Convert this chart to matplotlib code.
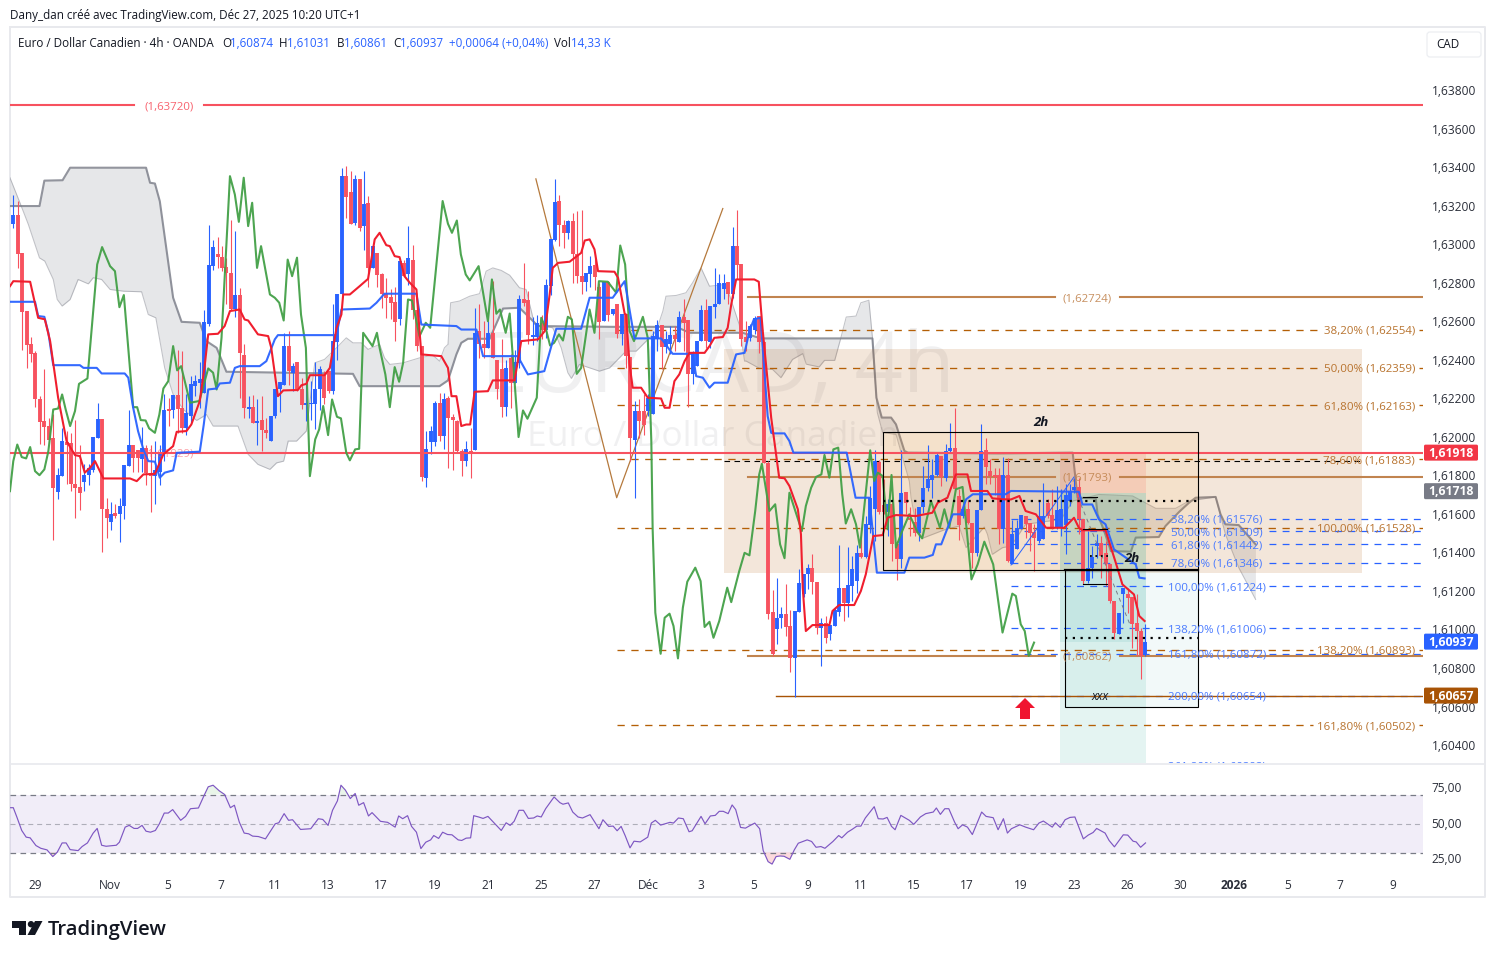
import numpy as np
import matplotlib
matplotlib.use("Agg")
import matplotlib.pyplot as plt
from matplotlib.patches import Rectangle, Polygon, Circle, FancyBboxPatch
from matplotlib.transforms import Affine2D, blended_transform_factory

plt.rcParams['font.family'] = ['Open Sans', 'DejaVu Sans']

# ---------- candles: values in 1/10000 above 1.6 -----------------
BASE = 1.6
direction = ("BRRRRRRRRR" "BBRRRRBBBB" "RRBRBBBRRB" "RRBBBRBRRB" "BBBBBBRRRR" "BRRBRBRRBB"
             "BBRBRRBBBB" "RRBBBRRBRB" "RBRRRRRBRB" "RRRBBBRBRR" "RRBRBRRBRR" "RBRBBRRBBR"
             "BBBRRBRRRB" "BRRBRBRBRR" "BRRBBBRBBR" "BRRBBBRBBB" "BRBRRRBBRR" "RRBBRRBBBB"
             "RRBRBBBRBB" "BRBBBRRBRR" "BRRRBBBBBR" "BBRRBRRBBR" "RRRBRBBBRR" "RBBRRBBBBB"
             "RRBBBRRRRB" "BRRRRB")
wick_high = [325.3,322.3,295.4,265.3,251.8,244.8,221.1,235,210,211.6,
 184,204.7,203,202,208.5,196,185.7,186,200,217.7,
 209.4,168,166,165,168.4,185.3,213.7,196,193.3,205,
 196,196,197.8,196,222.4,220.3,221.7,245,244.5,222,
 231.5,232,239,266,310,302.4,303.7,299,293,312.3,
 307,277.4,248,221,221.7,219.4,221,210,210.8,225,
 228.6,254,255,238.4,238.8,230.7,228,229,239,236.7,
 234,234,268.7,274.3,339.6,340.5,338,335.8,334,338,
 325,299,295.5,285.2,282.6,276.5,278,291.5,292,309.4,
 299.5,265.6,247,203,205.6,218.5,222.9,222.9,221,211.6,
 208.5,193.5,198,204.7,267,268.7,260,260,281,240,
 250.6,240,242.8,245,273.6,290,275.6,262,263.5,263.5,
 281.7,302.5,333.6,325.5,312.8,312.8,316.3,317,317.5,285,
 294,295,280,280.5,280.8,266.5,269,263.9,263.9,241.4,
 218.5,219.4,222,222,254.9,260.9,258.3,255,257.5,257.5,
 265.3,271.3,260.4,244.5,250,268.4,271.3,267.9,287.4,284.6,
 284.6,280.3,308.9,317.5,289.5,260,258.7,262.7,262.7,250,
 187.5,120.5,126.6,111.9,123.8,110,109.6,131.2,129,133.8,
 139.4,124.8,106.1,107,102.3,111.3,143.9,121.4,143,138,
 144,152.5,159,174.5,193,187.8,178,167.6,166.7,146,
 193,171.5,163.6,163.2,163.6,184.9,195.8,188.3,191.8,190,
 196.1,207,214.8,172.8,163.2,166.7,155.4,161.9,206.8,199.6,
 188.3,184,184,189.5,189.2,157,157,159.4,158.9,155.4,
 154.6,166.7,176.2,167.5,172.7,174.5,172.7,175.3,175.3,178.8,
 178.8,157.2,151.1,143.3,149.4,148.5,145.9,133.8,114.8,108.7,
 121.7,121.7,116.9,118.2,100.9,103.1]
body_top = [315.4,315.4,295.4,265.3,248.3,243.5,219.4,208,205.4,199.5,
 180,198.1,197.4,197,175.3,174,180,183.6,200,209.4,
 209.4,162.3,160,160.6,164,185.3,196,196,193.3,194.3,
 194.3,181.3,182.6,191.7,214,214.7,221.7,221.7,215,212.5,
 227.5,229,230,259.5,289,298.5,294.7,293.6,288.4,285,
 273.6,273.6,242.4,215.4,215.4,208,208.5,203.3,210.8,225,
 228.6,247,247,236.7,238.8,225,217.7,217.7,225,235,
 232,234,249.7,274.3,335.3,335.3,327,334,334,321,
 321.5,299,295.5,284.6,273.9,272.5,270,291.5,290.3,292.6,
 292,265.6,247,193.5,203,217.7,217.7,219.4,220.3,210.2,
 208,192.6,193.5,192.6,254,254.9,248.3,254,254,240,
 235,235.5,241,239,271.3,271.3,271,252.8,259,259,
 278.8,302.5,322,322.3,309.9,312,312,295,283.4,285,
 288.6,289,277.7,280.5,280.5,266.5,269,263.9,263.9,241.4,
 213.4,213.4,213.4,220.3,252.3,258.3,258.3,250.6,252.8,252.8,
 262,262,260.4,243.6,250,265.6,265.6,267.9,269,280,
 280,280.3,299,299,289.5,251.8,257.5,261.8,262.7,249.3,
 186.6,109.3,105.8,107.9,107.9,101.8,109.6,124.3,129,131.8,
 131.8,124.8,103.5,103.5,102.3,110,121.4,121.4,123,131.2,
 139.5,139.5,154.6,168.4,187.5,187.1,164.6,165,165.3,144.6,
 171,171.5,158,156,163.6,173.3,178,180.2,190.6,190,
 192.7,194,194,169.3,162.4,162.4,155.4,161.9,192.7,193,
 182.3,180.2,180.2,180.2,180.2,149.7,152.9,159.4,158.9,155.4,
 150.8,158.9,158.9,165.8,159.2,161.8,162.4,169.8,171.9,174,
 174,157.2,132.1,137.6,145,145,139.9,133.8,114.8,108.7,
 121.7,118.2,116.9,103.5,99.2,93.7]
body_bottom = [310.6,295,265,247.6,243,219.4,207.8,205,198.6,173.2,
 171.5,179.6,196,175.3,173.6,171,176.7,180,183,199.5,
 162.3,158,156,159,159.7,164,184.8,189,188.8,188.3,
 181.3,179.6,179.6,181.9,190.9,213.4,213.7,214.2,204.7,204.7,
 210.8,226.3,228,223,258.7,288.6,293.3,287.7,285,266.6,
 266.6,243.6,215,215,207.3,207.8,203.3,202,197.8,210.8,
 224.6,227,234,233.3,224.6,216.5,216.5,217,216.8,225,
 220,223.7,224,249.3,273.9,324.4,310.6,311,308.5,309.4,
 287.7,287.7,284,273.9,272.2,269.6,259.7,261,283.4,284.3,
 265.6,247,179.1,178.8,197.4,197.4,200.4,200.4,209.9,209,
 192.6,187.4,187.4,192,193.1,248,246.2,246.2,240.7,225,
 215.4,215.4,228,228,238.4,269.6,252.8,252.4,251.8,255.7,
 255.7,278.2,302,309.9,305.9,305.9,295,283.4,280.5,280.5,
 284.3,283,259.7,260,263.5,264,253.5,253.5,242,199.5,
 198.6,208,206,213.4,211.6,250.6,246.6,246.6,248.3,250.6,
 249.3,259.2,232.4,232.4,236.8,250,249.7,249.3,267.3,269,
 277,273.9,273.9,289,250.6,249.3,251.4,255.7,249.3,186.6,
 107.9,87.1,100.1,105.8,101.3,85,85.4,109.3,118.3,128.6,
 124.8,101,101,95.4,97.5,101.8,109.3,113.9,113.9,122.6,
 125.2,137.6,137.6,154.3,162.4,161.2,161.2,161.2,144.2,136.4,
 136.4,165.8,157,150.3,150.3,163.6,173.3,177.4,180.2,179.2,
 178.8,192.7,172.8,154.3,158.9,155.4,139.9,139.9,161.9,184.5,
 179.7,179.7,152,152,135.6,133.8,141.6,152,154.6,150.3,
 147.3,145.9,146.8,158.9,152.8,152.5,152.8,154.2,166.7,172.2,
 157.2,125.2,125.2,132.1,143.3,138.1,133.8,114.8,98.3,97.5,
 118.2,116.5,102.7,99.2,86.2,87.4]
wick_low = [308.2,287.7,245.2,235.5,239,215.4,196.4,196,197,146.2,
 167.7,179.6,175.3,172,158,162,172,175,182,199.5,
 140,147.6,151.4,158,145.5,157.5,184.8,182,182,182,
 175,161,165,175,187.4,205.6,210,202,202,201,
 207,221,215,223,257.5,286.4,287.7,286,268.7,266,
 262,220,209.6,210,207.3,196,192.6,199.5,197.8,210,
 213,226.8,227,224,224,214.7,208,209,204,214,
 217,223,222,239.7,273.9,313.7,310.6,310,306.8,297,
 278,287.4,278,267,261.8,261,249.7,258,283.4,279,
 261,244.5,177,174,190.9,195,197.8,193.5,183.6,183,
 191.7,179.6,184.8,178.4,193.1,241,240.7,246.2,240.7,219.4,
 210.2,210.8,215,228,235.8,267.9,248,247.6,249.7,250.6,
 251.4,273.6,301.6,299,297.8,302.5,280,280,273.9,275.6,
 277.7,276,250.6,260,260,263.5,251.4,247.6,235.8,187.4,
 168.4,199.5,201,210.8,211.6,244.5,235,243.6,242.8,244.5,
 249.3,244.5,215.4,227.5,236.8,249.7,246.2,245.9,261.8,268.7,
 271.3,268.7,272,281.7,247,244.5,249.7,253.5,243.6,186.6,
 105.3,86.3,92.7,101,96.6,78.1,65,109.3,116.9,120.9,
 118.3,97.5,81,93.2,94.4,101.8,107,104.4,106.5,114.8,
 119,137.3,137.3,150.3,146,159.8,159.8,148.5,135.6,125.5,
 131.8,159.8,148.5,148.5,146,160.6,172,168.4,179.7,174.5,
 177,192,172,146.3,158,154.6,132,138.2,161.9,175.4,
 175.4,170,144.2,145,135.2,133.8,141.6,152,147.7,140.7,
 130.4,145,146.8,158,152,152,148.5,139,164,171,
 149.4,123.4,124.3,126.9,137.3,126.9,122.6,113.9,94.9,97.5,
 103.5,108.7,90.6,86.2,74.1,86.1]

# ---------- Ichimoku lines (bar index, value) --------------------
blue_bars = [-.75,4.9,5.6,7,7.9,9,15,15.8,18.8,19.9,25.1,25.9,27,28.1,29.3,30.4,31.9,33,34.1,36,36.8,42,42.9,43.9,45.8,46.5,48.8,49.9,51,55.5,57,58.9,59.6,72.8,73.9,80.3,81.8,
 83.6,90.8,91.9,99.8,100.9,104.3,105.8,113.6,115.9,119.6,121.5,122.3,127.9,129.8,135,137.7,139.9,145.9,148.5,153,153.8,155.3,156.8,157.9,160.9,162.8,164.7,165.8,166.8,168.3,169.9,170.7,
 171,173.7,174.8,175.7,187.7,189.7,192.8,194.5,200.7,201.8,205.2,207.1,207.8,209,211.6,213.4,214.6,216.1,223.5,224.7,240,240.8,243,244.5,246,247.9,251.7,252.8,253.6,254.8]
blue_vals = [270.1,270.1,262.7,262.3,254,237.2,237.2,235.8,235.8,232.9,232.9,230.7,215.1,203,193.5,187.4,187.1,178.8,181.4,182.6,191.7,192.3,206.4,224.6,225.1,227.7,228.1,235.8,236.7,236.7,239.3,250.6,252.8,252.8,266.1,266.6,269.6,
 274.3,274.3,258.3,257.5,255.7,255.7,241.9,241.9,232.4,234.1,249.7,256.1,256.1,272.2,272.2,280.8,251.1,251.1,243.1,243.1,231.5,230.7,225.5,228.1,228.1,242.8,243.6,254.9,261,261.8,210.8,202.1,
 201.8,201.8,197.8,191.8,191.8,168.4,168.4,129.5,129.5,137.3,137.3,138.7,144.2,144.2,159.8,159.8,167.6,170.2,170.2,171.9,171.5,164.9,164.9,157.2,154.6,141.6,135.5,133.8,126.9,126.5]
red_bars = [-.75,0,3.8,5.6,7.1,8.3,10.1,12,13.9,15,16.1,17.3,18.4,20.3,26.3,27.8,29.3,31.9,33.8,36,36.8,39,40.1,42,43.1,43.9,46.1,47.6,48.8,51,52.1,52.9,55.1,57.4,58.1,59.6,60.8,64.1,64.9,66,66.8,70.1,71.3,72.8,73.9,74.3,75.8,78,79.9,81.4,82.5,
 84,84.8,85.9,87,88.1,89.3,90.8,91.9,96.4,97.9,98.7,99.8,100.9,102,102.9,103.9,106.9,108,112.9,114.4,118.2,119.7,120.8,121.5,122.7,125.3,127.9,128.7,129.8,130.9,131.7,135.4,136.2,137.7,138,138.8,139.5,141.4,142.9,145.9,146.7,147.8,148.9,150,151.2,152.3,155.7,156.8,157.9,159.8,160.9,161.7,162.8,166.9,167.9,168.8,170.7,
 172.5,173.7,174.8,176.7,177.4,177.8,178.5,180,183.8,184.5,186,189.4,190.9,192,193.7,195.8,196.9,198.8,203.3,207,208.2,210.4,212.3,214.9,215.7,219.4,220.5,222.8,224.7,226.6,228,230.3,232.6,236.7,238.9,240,240.8,246,248.3,249.8,252.4,253.6,254.8]
red_vals = [278.2,280.8,280.5,261.8,261,249.7,220.3,197.8,190.5,190,181.4,184,187.4,178.4,178.4,177,180.5,180.8,190.9,195.2,202.6,203,206.4,218.6,236.7,253.2,253.5,257.5,265.3,266.1,260.9,260.4,253.2,252.3,246.2,221.1,224.1,224.3,226.8,227.5,232,232,235.8,256.6,263.5,273.9,273.9,278.2,282,302.5,305.9,
 299.5,299,293.8,293.3,283.4,280,276.5,242.8,241.9,235.8,221.1,221.1,205.6,206.4,206.4,223.4,223.7,229.3,229.3,249.7,250.6,254.9,273.9,287.7,290.3,290.9,295.5,301.9,302.5,297.3,286,285.7,282.6,263.9,263.5,237.6,225.5,225.5,220.3,219.9,215.1,215.1,228.9,232.4,239.3,243.6,243.6,247.1,251.4,251.8,256.6,268.7,281.7,281.7,280.5,254.9,209.9,
 178.8,178.5,174.5,162.4,149.4,121.7,99.2,102.3,102.3,109.6,112.7,112.7,120,128.6,148.5,149,158,159.4,158.9,160.6,165.8,168.4,180.5,180.5,171.9,171.9,168.1,167.6,167.5,169.3,161.5,159.8,152.8,152.8,158,152.8,151.5,151.5,134.7,123.4,118.2,107,104.4]
green_bars = [-.75,0,.9,1.9,2.9,3.8,4.9,5.9,7,7.9,9,10.1,11,11.8,12.8,13.9,14.8,16.7,18.9,20,21.8,22.9,23.9,24.9,27,27.9,28.7,29.8,30.6,31.9,32.9,33.8,34.9,36,36.9,37.8,39.8,41.9,43.9,45,45.8,46.9,48.8,49.9,50.8,51.9,52.9,53.8,54.9,55.8,57.8,58.9,59.9,60.9,61.8,62.8,63.9,64.8,65.9,66.8,68,68.9,69.8,70.9,71.8,72.9,73.8,75,75.8,77,77.9,78.8,80.9,81.9,
 82.5,83.8,84.8,85.9,86.9,87.8,88.9,89.8,91.5,92.9,93.9,96.7,97.9,98.8,99.9,100.8,101.9,102.8,104.8,106.9,107.8,108.8,109.6,110.9,111.8,113.8,114.8,115.8,117.9,118.9,119.9,120.9,121.8,122.9,123.8,124.9,125.8,126.9,127.9,129.8,130.9,131.9,133.9,135.8,136.7,137.8,138.8,139.8,141.8,142.9,
 143.7,144,144.6,145.8,146.7,147.8,148.7,149.7,150.8,151.8,153.6,154.8,155.7,156.8,157.7,159,160.8,161.7,163.5,164.7,165.8,167.1,168,168.6,170.3,171.6,172.7,173.7,174.8,177.6,178.5,179.7,180.8,182,182.7,183.8,184.7,185.8,186.7,187.5,188.7,189.8,190.7,193,193.9,194.7,195.8,196.9,197.8,198.8,199.9,201.8,203.7,204.7,206.7,208.7,209.7,210.8,212.3,213.8,215.8,217.2,218.7,220.7,222.8,225,225.8,226.9,227.8,228.7,229.9]
green_vals = [171.8,187.4,196,189.5,188.8,194.7,182.2,180.1,183.1,192.6,214.2,214.7,222,214.2,205.6,213.4,227.5,230.3,289.5,298.5,288.6,286,267.3,273.6,215.4,215.4,208.7,208.5,204.4,202.1,211.6,225.1,228.9,247.1,234.5,236.7,217.7,218.6,235.5,233.3,224.6,251.4,335.3,325.8,311.6,334.5,309.4,321.5,287.7,299,273.9,272.2,269.6,260.4,292,283.4,293,263.5,246.2,179.6,198.7,203.9,216,200.9,219.4,210.4,209.6,191.7,187.8,193.5,193.8,254,247.1,254,
 246.2,232.4,215.4,236.2,228.6,238.4,271.3,270.8,252.3,259.2,256.6,322.4,310.6,305.9,312.3,294.7,284.3,281.2,288.6,260,281.7,263.9,266.1,254,264,199.9,213.7,209.4,220.3,261.8,256.6,247.4,248.8,253.2,250,262.3,261,232.7,235.8,266.1,254,280.8,280.5,274.8,299.3,289.5,254.9,249.7,262.3,251.4,
 197.8,152,108.7,87.4,106.1,108.2,101.8,85,111.3,124.8,132.1,125.1,101.3,104,95.7,104.4,121.7,114.2,130.3,139.8,138.5,161.5,180.5,186,161.5,165,144.2,137,171,151.1,164.1,173.6,179.2,180.5,190.6,178.8,193.5,194.4,170.2,155,162.4,154.6,142.5,193,177.1,181.4,179.7,152,180.2,142.5,149.4,159.8,150.3,147.3,166.7,152.9,162.4,152.9,172.8,174,126,133.8,145.6,133.8,98.4,118.6,117.4,102.7,99.2,86.3,93.2]
span_b_bars = [-.75,5.9,7,11.1,12.8,29.9,30.8,31.9,33,36,37.9,42,43.5,45.8,48,76.5,78,96,97.9,99.8,100.9,102.4,107.3,110.3,114,118.2,135,149.3,152.3,164.3,168.4,193.5,194.4,195.6,197.7,198.8,200.7,201.5,222,238.6,239.7,243.8,244.2,245.7,247.2,251.7,252.8,258,259.5,262.6,264.8,266.3,270.8,271.9,273,276,279.8]
span_b_vals = [319.8,319.8,333,333.2,339.7,339.7,331.9,331.5,322.3,272.2,259.7,259.2,249.7,246.2,233.8,232.7,226.3,226.3,229.3,242.8,248.8,250.9,250.9,266.6,267,257.5,257.1,257.1,254,254,251.1,251.1,220.3,210,210,206.5,192.7,191.8,191.4,191.8,168.4,168,159.8,151.1,140.7,140.4,147.7,148,153.7,161.1,165.8,168.4,168.8,159.8,154.6,154.2,144.2]
span_a_bars = [-.75,1.5,3.4,5.9,7.1,9,9.9,11,12.8,14.6,16.9,18,19.9,21.8,24.9,28.9,30.4,32.1,34.1,36,38.3,41.3,43.5,45,50.6,52.9,55.1,57.8,59.3,60.9,61.9,63.8,66,67.9,70.1,72.8,75,76.5,78.4,79.9,
 82.5,83.6,84.8,87.8,91.5,94.5,96,97.1,97.9,98.5,100.5,102.8,105,106.5,108,109.9,111.8,114,115.5,117.4,121.5,123.4,124.9,125.7,127.5,132,134.3,138,140.3,144.8,146.3,147,149.3,151.5,153,154.9,156.8,160.5,163.5,164.7,165,168,171,172.9,175.5,177.8,178.6,181.5,182.7,185,186.4,187.6,189.8,190.9,192.7,193.5,194.6,195.8,198.8,201.8,202.2,203.3,204.7,210,213,214.6,218.7,219.4,220.5,222.8,224.7,228,236,238.6,244.5,247.6,252.1,257.3,261.8,264.8,270.8,273,276,279.8]
span_a_vals = [334.5,321.5,310.2,292.9,291.2,281.7,271.3,267.9,271.3,281.7,279.4,282.6,281.7,276.5,275.6,275.3,263.5,261.8,235.8,222,214.2,208.5,211.6,205.6,205.6,190.9,185.7,183.1,186.5,187.4,197.8,197.8,203,238.4,240.2,246.2,251.4,248.8,248.8,245.4,
 248,241,237.6,238.4,241,242.4,239.3,246.2,248,269.6,270.5,273,274.3,286,287.7,286.4,283.9,277.4,276.5,258.3,256.6,246.2,233.3,230.3,237.6,234.1,235.8,244.5,244.5,254.9,265.3,273,273.4,274.8,280,287.7,278.2,279.1,258.3,239.3,239.4,235.6,235,230.7,240.2,243.2,237.7,236.3,239.7,239.7,251.5,262.2,262.7,269.6,270.9,251.5,212.6,202.2,201.3,177,168.4,154.6,147.3,152,153.7,142.5,153.2,149.4,139,142.5,143.3,154.6,157.2,166.7,170.1,169.8,169.3,162.9,162.9,166.7,168.8,149.4,132.1,115.6]

# ---------- RSI ---------------------------------------------------
rsi_bars = [-.6,0,.8,1.9,2.9,3.8,5.1,6.2,7.6,8.9,9.9,11,11.9,12.8,14.6,15.5,16.7,18,18.9,19.9,20.9,23.2,23.9,25.2,26.1,27.2,28,29,29.9,30.9,32,32.9,34,34.9,35.9,37.7,38.8,39.9,41.7,43,43.9,45,46.4,47.6,48.9,49.8,50.9,52,53,53.9,55.2,56.8,59,59.8,61,62,62.9,64.7,67,68.7,69.7,70.9,71.9,73,73.8,74.8,75.9,77,77.8,78.9,80,80.8,82.7,84.3,86,86.8,87.7,88.8,89.7,90.8,91.8,92.9,94,94.7,95.8,96.7,97.8,98.8,100.2,101,102,103,103.7,104.8,105.8,106.9,109.9,111,111.9,112.8,113.9,114.9,116,117.2,118,118.9,119.9,121.8,123.1,123.8,125,126,127.2,128.2,129.9,131.9,132.8,134.1,135.1,136,136.9,137.8,138.9,139.8,141.2,142.9,143.7,144.6,145.8,147.9,148.7,149.8,150.9,152.2,152.9,154.9,155.8,157,158.1,159,159.9,161,161.9,162.7,163.8,164.9,166,
 167,168.1,168.9,170,170.9,171.8,172.7,173.6,174.9,175.9,176.8,178.8,179.8,180.8,181.9,182.8,184.6,185.9,186.6,187.9,188.9,190,190.9,191.9,193.9,194.8,195.9,196.8,197.8,198.6,199.9,201.8,202.8,204.3,205.5,207.2,207.9,208.8,209.8,210.7,212,212.8,213.8,214.9,216,218.1,219.1,220.7,221.8,223,223.9,224.8,226.7,228,229.8,231,232,234,234.7,235.8,236.9,238,239.1,241,242.1,243.2,244,245.9,246.8,248,250,251,252.2,252.9,253.9,255]
rsi_vals = [60.9,60.9,54.5,45.2,40.6,40.1,34.8,32.9,31.8,27.2,30.2,36.6,36.6,32,31.3,34.1,36.6,43.4,46.6,35,34.3,35,37.1,47.5,48.7,46.6,46.6,48.7,44.7,44,45.2,49.8,57.2,57.2,59.6,52.2,54.9,60.2,60.7,69.5,75.3,76.4,72.5,70,60.9,62.6,51,43.4,42.9,41.3,41,39.4,49.8,50.5,56.8,52.2,52.6,45.9,46.4,53.3,52.8,48.7,59.1,65.6,76.4,73,67.2,70.7,62.6,64.4,55.2,57.5,51.5,50.8,47.5,55.2,53.3,55.4,48,44,32.7,37.1,38.7,41.7,39.7,44,42.4,42.2,38.7,38.3,39.9,40.1,55.4,54.5,53.5,54.9,45.2,50.5,48.7,51.5,59.1,59.1,53.5,53.8,55.2,54.5,60.2,68.3,64.4,63.3,64.2,57.9,54.5,53.8,56.1,46.4,52.6,48,48.2,45,48,41.7,33.2,37.8,37.3,40.6,50.3,52.2,48.9,50.8,50.3,53.8,53.3,44.3,45,54.9,49.8,55.2,55.6,58.4,58.4,56.8,62.8,59.6,47.3,46.8,48.7,
 50.3,46.4,31.3,23.7,22,27.2,27.6,27.4,25.3,31.8,36.4,38.7,37.6,33.6,34.1,32.9,37.6,41.7,40.1,44,45.9,48.2,48.2,53.8,61.6,53.3,53.1,54.2,48,45.7,55.6,52.2,49.4,54.5,56.8,57.9,60.7,56.3,60.2,60.2,51,46.4,49.1,47.5,42.4,57.9,54.9,54,45.7,53.3,43.4,46.4,49.1,47.5,45.7,50.3,51.7,47.5,50.5,47.3,52.6,54.2,54.5,39.4,42,43.8,46.6,43.4,38.3,33.9,42.2,42,37.8,37.3,33.6,36.6]

# ---------- levels, ticks, labels ---------------------------------
price_ticks = [1.638,1.636,1.634,1.632,1.630,1.628,1.626,1.624,1.622,1.620,1.618,1.616,1.614,1.612,1.610,1.608,1.606,1.604]
date_bars = [4.9,21.8,34.8,46.8,58.9,70.9,82.8,95,106.9,118.9,130.8,143,154.9,166.8,179,190.9,202.9,214.8,227,238.9,250.9,262.8,274.9,286.9,298.8,310.7]
date_labels = ['29','Nov','5','7','11','13','17','19','21','25','27','Déc','3','5','9','11','15','17','19','23','26','30','2026','5','7','9']
orange_fib = [1.62554,1.62359,1.62163,1.61883,1.61528,1.60893,1.60502]
orange_txt = ['38,20%','50,00%','61,80%','78,60%','100,00%','138,20%','161,80%']
blue_fib = [1.61576,1.61509,1.61442,1.61346,1.61224,1.61006,1.60872,1.60654,1.60292]
blue_txt = ['38,20%','50,00%','61,80%','78,60%','100,00%','138,20%','161,80%','200,00%','261,80%']
badge_prices = [1.61918,1.61718,1.60937,1.60657]
badge_colors = ['#f23645','#787b86','#2962ff','#a85305']

W, H = 1495, 958
BLUE, RED = '#2962ff', '#f7525f'
LINE_RED = '#f01e2e'
GREEN = '#43a047'
ORANGE = '#b45f06'
TAN = '#c1844f'
TXT = '#131722'
FS = 8.25
fig = plt.figure(figsize=(W/100, H/100), dpi=100, facecolor='white')
pix = Affine2D().scale(1, -1).translate(0, H)

def p(v):
    return BASE + np.asarray(v, float)*1e-4

ax = fig.add_axes([10/W, (H-763)/H, 1413/W, 736/H])
ax.set_xlim(-0.74, 317.5)
ax.set_ylim(1.603040+3e-5, 1.641244+3e-5)
for s in ax.spines.values():
    s.set_visible(False)
ax.patch.set_alpha(0)
ax.yaxis.tick_right()
ax.set_xticks([])
ax.set_yticks(price_ticks, [f"{t:.5f}".replace('.', ',') for t in price_ticks])
ax.tick_params(axis='y', length=0, pad=6.2, labelsize=8.6, labelcolor='#2a2e39')

py = blended_transform_factory(pix, ax.transData)   # x in pixels, y in price
py_txt = py + Affine2D().translate(0, -1.2)          # small optical shift of level labels

# watermark
ax.text(718, 370, 'EURCAD, 4h', transform=pix, ha='center', va='center', fontsize=61, color='#787b86', alpha=.11, zorder=0)
ax.text(713, 437, 'Euro / Dollar Canadien', transform=pix, ha='center', va='center', fontsize=25.5, color='#787b86', alpha=.11, zorder=0)

# Ichimoku cloud
grid = np.arange(-0.75, 279.9, 0.25)
a_i = np.interp(grid, span_a_bars, p(span_a_vals))
b_i = np.interp(grid, span_b_bars, p(span_b_vals))
ax.fill_between(grid, a_i, b_i, color='#787b86', alpha=.18, lw=0, zorder=1)
ax.plot(span_a_bars, p(span_a_vals), color='#787b86', alpha=.45, lw=.75, zorder=1.1)
ax.plot(span_b_bars, p(span_b_vals), color='#787b86', alpha=.8, lw=1.5, zorder=1.1)

# regions (drawing tools)
def rect(x0, y0, x1, y1, fc, alpha, z=1.5):
    ax.add_patch(Rectangle((x0, y0), x1-x0, y1-y0, transform=pix, fc=fc, alpha=alpha, lw=0, zorder=z))
rect(724, 349, 1362, 573, '#b5651d', .16)
rect(883, 432, 1198, 570, '#ffb74d', .10)
rect(1060, 452, 1146, 493, '#f44336', .13)
rect(1060, 493, 1146, 642, '#26a69a', .22)
rect(1060, 642, 1146, 764, '#26a69a', .12)
rect(1065, 570, 1198, 707, '#26a69a', .06)

# levels
def level(price, x0, x1, gap0, gap1, color, lw, ls, z=2, alpha=1):
    kw = dict(transform=py, color=color, lw=lw, ls=ls, zorder=z, alpha=alpha)
    if gap0 is None:
        ax.plot([x0, x1], [price, price], **kw)
    else:
        ax.plot([x0, gap0], [price, price], **kw)
        ax.plot([gap1, x1], [price, price], **kw)

dash = (0, (5.5, 5))
orange_gaps = [1319, 1319, 1319, 1319, 1313, 1313, 1313]
for v, t, g in zip(orange_fib, orange_txt, orange_gaps):
    level(v, 617, 1423, g, 1419, ORANGE, .95, dash)
    ax.text(1415, v, f"{t} ({v:.5f})".replace('1.', '1,'), transform=py_txt, ha='right', va='center',
            fontsize=FS, color='#b8732e', zorder=6)
for v, t in zip(blue_fib, blue_txt):
    if v > 1.6035:
        level(v, 1011, 1423, 1165, 1269, BLUE, .9, dash, z=2.1)
    ax.text(1217, v, f"{t} ({v:.5f})".replace('1.', '1,'), transform=py_txt, ha='center', va='center',
            fontsize=FS, color='#4a7bff', zorder=6, clip_on=True)

for price, txt, x0, gap0, gap1, col, lw in [(1.63720, '(1,63720)', 10, 134, 204, RED, 1.5),
                                           (1.62724, '(1,62724)', 748, 1055, 1120, TAN, 1.5),
                                           (1.61793, '(1,61793)', 748, 1055, 1120, TAN, 1.5),
                                           (1.60862, '(1,60862)', 748, 1055, 1120, TAN, 1.5)]:
    level(price, x0, 1423, gap0, gap1, col, lw, '-', z=2.3)
    ax.text((gap0+gap1)/2, price, txt, transform=py_txt, ha='center', va='center', fontsize=FS, color=col, alpha=.9, zorder=6)
level(1.60657, 776, 1423, None, None, '#a85305', 1.0, '-', z=2.3)
level(1.61918, 10, 1423, None, None, RED, 1.5, '-', z=3.25)
ax.text(169, 1.61918, '(1,61929)', transform=py_txt, ha='center', va='center', fontsize=FS, color=RED, alpha=.55, zorder=3.26)
level(1.61877, 724, 1360, None, None, 'black', .8, (0, (5, 4)), z=2.4)

# zigzag tool (bar, price)
zig_bars = [117.7, 135.9, 159.8]
zig_prices = [1.63339, 1.61684, 1.63185]
ax.plot(zig_bars, zig_prices, color='#b5793c', lw=.9, zorder=2.2)

# candles
bars = np.arange(len(direction))
is_up = np.array([d == 'B' for d in direction])
colors = np.where(is_up, BLUE, RED)
top = p(body_top)
bot = p(body_bottom)
minh = 1.6e-4
bot = np.minimum(bot, top-minh*.5)
ax.vlines(bars, p(wick_low), p(wick_high), colors=colors, lw=.8, zorder=3)
ax.vlines(bars, bot, top, colors=colors, lw=2.8, zorder=3.1, capstyle='butt')

# lines
ax.plot(green_bars, p(green_vals), color=GREEN, lw=1.5, alpha=.95, zorder=3.3)
ax.plot(blue_bars, p(blue_vals), color=BLUE, lw=1.5, alpha=.95, zorder=3.4)
ax.plot(red_bars, p(red_vals), color=LINE_RED, lw=1.5, zorder=3.5)

# drawing tools on top
def box(x0, y0, x1, y1, lw=.8):
    ax.add_patch(Rectangle((x0, y0), x1-x0, y1-y0, transform=pix, fc='none', ec='black', lw=lw, zorder=5))
box(883, 432, 1198, 570)
box(1065, 570, 1198, 707)
ax.plot([1065, 1198], [570, 570], transform=pix, color='black', lw=1.6, zorder=5)
ax.plot([883, 1198], [500.5, 500.5], transform=pix, color='black', lw=1.6, ls=(0, (1, 2.5)), zorder=5)
ax.plot([1065, 1198], [637.5, 637.5], transform=pix, color='black', lw=1.6, ls=(0, (1, 2.5)), zorder=5)
ax.plot([1011, 1074], [565, 477], transform=pix, color=BLUE, lw=.7, zorder=3.2)
ax.plot([1075, 1131], [490, 627], transform=pix, color='#787b86', lw=.7, ls=(0, (4, 4)), zorder=3.2)
for xs, y in [((1083, 1097), 497), ((1083, 1107), 529), ((1083, 1107), 584)]:
    ax.plot(xs, [y, y], transform=pix, color='black', lw=.8, zorder=5)
ax.plot([1090, 1108], [556, 556], transform=pix, color='black', lw=1.3, ls=(0, (1, 2)), zorder=5)
ax.text(1041, 422, '2h', transform=pix, ha='center', va='center', fontsize=9.5, fontweight='bold', style='italic', color='#131722', zorder=6)
ax.text(1132, 559, '2h', transform=pix, ha='center', va='center', fontsize=9.5, fontweight='bold', style='italic', color='#131722', zorder=6)
ax.text(1100, 697, 'xxx', transform=pix, ha='center', va='center', fontsize=8.6, style='italic', color='#131722', zorder=6)
ax.add_patch(Polygon([(1015, 708), (1025, 698), (1035, 708), (1030, 708), (1030, 719), (1020, 719), (1020, 708)],
                     transform=pix, fc='#f0142f', lw=0, zorder=6))

# price badges
for v, c in zip(badge_prices, badge_colors):
    y_pix = ax.transData.transform((0, v))[1]
    fig.add_artist(FancyBboxPatch((1424, H-y_pix-8), 54, 16, boxstyle='round,pad=0,rounding_size=1.5', transform=pix, fc=c, lw=0, zorder=7))
    fig.text(1451/W, (y_pix-.8)/H, f"{v:.5f}".replace('.', ','), ha='center', va='center', color='white',
             fontsize=8.8, fontweight='bold', zorder=8)

# RSI pane
rx = fig.add_axes([10/W, (H-868)/H, 1413/W, 104/H])
rx.set_xlim(-0.74, 317.5)
rx.set_ylim(50-(868-823.5)/1.45, 50+(823.5-764)/1.45)
for s in rx.spines.values():
    s.set_visible(False)
rx.patch.set_alpha(0)
rx.axhspan(30, 70, color='#7e57c2', alpha=.1, lw=0)
rx.axhline(70, color='#787b86', lw=.9, ls=(0, (4.5, 3.5)))
rx.axhline(30, color='#787b86', lw=.9, ls=(0, (4.5, 3.5)))
rx.axhline(50, color='#787b86', lw=.8, alpha=.55, ls=(0, (4.5, 3.5)))
rb, rv = np.array(rsi_bars), np.array(rsi_vals)
fine = np.arange(rb[0], rb[-1], .1)
fv = np.interp(fine, rb, rv)
rx.fill_between(fine, 70, fv, where=fv > 70, color='#4caf50', alpha=.12, lw=0)
rx.fill_between(fine, 30, fv, where=fv < 30, color='#f23645', alpha=.18, lw=0)
rx.plot(rb, rv, color='#7e57c2', lw=.85)
rx.yaxis.tick_right()
rx.set_yticks([75, 50, 26.2], ['75,00', '50,00', '25,00'])
rx.set_xticks(date_bars, date_labels)
rx.tick_params(axis='y', length=0, pad=6.2, labelsize=8.6, labelcolor='#2a2e39')
rx.tick_params(axis='x', length=0, pad=8, labelsize=8.6, labelcolor='#2a2e39')
for lab in rx.get_xticklabels():
    if lab.get_text() == '2026':
        lab.set_fontweight('bold')

# chrome
def chrome_line(xs, ys, lw=1.4):
    fig.add_artist(plt.Line2D(xs, ys, transform=pix, color='#e8e9ed', lw=lw, zorder=0))
chrome_line([10, 1485, 1485, 10, 10], [27, 27, 897, 897, 27])
chrome_line([10, 1485], [763.5, 763.5], lw=1.2)
fig.add_artist(FancyBboxPatch((1427, 32), 54, 25, boxstyle='round,pad=0,rounding_size=3', transform=pix, fc='white', ec='#eceef2', lw=.9, zorder=1))
fig.text(1436/W, 1-45/H, 'CAD', ha='left', va='center', fontsize=8.4, color=TXT)
fig.text(10/W, 1-15.2/H, 'Dany_dan créé avec TradingView.com, Déc 27, 2025 10:20 UTC+1', ha='left', va='center', fontsize=8.38, color=TXT)
legend_items = [(18, 'Euro / Dollar Canadien · 4h · OANDA', TXT), (222.5, 'O', TXT), (230, '1,60874', BLUE),
                (279, 'H', TXT), (287, '1,61031', BLUE), (337, 'B', TXT), (344, '1,60861', BLUE),
                (393, 'C', TXT), (400, '1,60937', BLUE), (449, '+0,00064 (+0,04%)', BLUE),
                (553.5, 'Vol', TXT), (571, '14,33 K', BLUE)]
for x, t, c in legend_items:
    fig.text(x/W, 1-43.2/H, t, ha='left', va='center', fontsize=8.4, color=c)

# logo
fig.add_artist(Polygon([(12, 921), (26, 921), (26, 935), (19, 935), (19, 928), (12, 928)], transform=pix, fc='#131722', lw=0))
fig.add_artist(Circle((31, 924.2), 3.2, transform=pix, fc='#131722', lw=0))
fig.add_artist(Polygon([(35, 921), (42.5, 921), (35, 935), (27.5, 935)], transform=pix, fc='#131722', lw=0))
fig.text(48/W, 1-929.5/H, 'TradingView', ha='left', va='center', fontsize=14.6, fontweight='semibold', color='#131722')

fig.savefig('out.png', dpi=100, facecolor='white')
